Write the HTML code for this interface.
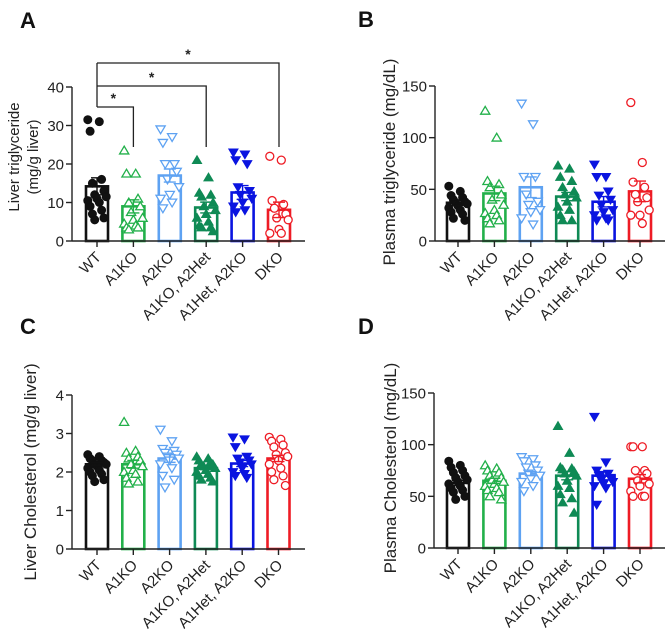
<!DOCTYPE html>
<html><head><meta charset="utf-8">
<style>
html,body{margin:0;padding:0;background:#fff;}
svg{display:block;font-family:"Liberation Sans",Arial,sans-serif;}
</style></head>
<body>
<svg id="fig" width="669" height="635" viewBox="0 0 669 635" xmlns="http://www.w3.org/2000/svg"></svg>
<script>
const categories = ["WT","A1KO","A2KO","A1KO, A2Het","A1Het, A2KO","DKO"];
const colors = ["#111111","#22b04a","#5ea2f2","#0f8a55","#0a14e0","#ee1c25"];
const markers = ["fcircle","otri","odtri","ftri","fdtri","ocircle"];

const liverTgMeans = [14.2, 9.0, 17.0, 8.7, 12.6, 8.1];
const liverTgSems = [2.2, 1.7, 1.7, 1.4, 1.8, 2.0];
const liverTgPoints = [
  [31.5,31,28.5,16,15,13,12,11.5,11,10.5,10,9,8,7,6,5.5],
  [23.5,17.5,17.5,11,10,9,7.5,6,5.5,4.5,4,3.5,3.5,3],
  [29,27,25.5,20,20,18,16,14,12,11,10,8.5],
  [21,16.5,12.5,12,11.5,10,9,8,7,6,5,4,3.5,3.5,2.5],
  [23,22.5,21,20,14,13,12,11,10,9,8,7.5],
  [22,21,10.5,9.5,8.5,7,6,5.5,3,2,2]
];
const plasmaTgMeans = [37, 46, 52, 43, 38, 48];
const plasmaTgSems = [2.5, 7, 10, 4, 5, 10];
const plasmaTgPoints = [
  [53,48,44,42,40,38,37,36,34,32,30,28,26,22,20],
  [126,100,58,55,52,45,40,35,30,27,25,22,20,17],
  [133,113,62,62,45,38,35,30,28,22,16],
  [73,70,62,58,52,48,45,42,38,33,30,25,20,20],
  [74,62,62,48,44,40,35,30,28,25,22,20,20],
  [134,76,57,52,45,42,38,30,25,25,17]
];
const liverChMeans = [2.2, 2.2, 2.35, 2.1, 2.22, 2.35];
const liverChSems = [0.05, 0.1, 0.1, 0.04, 0.08, 0.08];
const liverChPoints = [
  [2.45,2.4,2.35,2.3,2.3,2.25,2.2,2.2,2.15,2.1,2.05,2.0,1.95,1.9,1.8,1.75],
  [3.3,2.55,2.5,2.4,2.35,2.3,2.2,2.15,2.05,2.0,1.95,1.85,1.75,1.7],
  [3.1,2.8,2.6,2.55,2.5,2.45,2.4,2.35,2.3,2.2,2.1,1.9,1.8,1.6],
  [2.4,2.35,2.3,2.25,2.2,2.2,2.15,2.1,2.05,2.0,1.95,1.9,1.85,1.8,1.75],
  [2.9,2.85,2.65,2.4,2.35,2.3,2.25,2.2,2.1,2.0,1.95,1.9,1.85],
  [2.9,2.85,2.8,2.7,2.65,2.5,2.45,2.4,2.3,2.2,2.1,2.0,1.9,1.8,1.65]
];
const plasmaChMeans = [63, 65, 72, 70, 70, 67];
const plasmaChSems = [2.5, 2.5, 2, 4, 4, 4];
const plasmaChPoints = [
  [84,80,78,75,73,70,68,66,64,62,60,58,56,54,50,47],
  [80,77,75,73,70,68,66,64,62,60,58,56,54,50,47],
  [88,86,84,80,78,75,72,70,67,64,60,55],
  [118,92,78,77,76,74,72,70,65,60,58,52,48,44,34],
  [127,83,75,72,70,68,66,64,62,60,58,42],
  [98,98,98,75,75,72,65,62,60,55,50,50,50]
];
const tgTicks = [0,10,20,30,40];
const plasmaTicks = [0,50,100,150];
const chTicks = [0,1,2,3,4];
// significance comparisons in panel A: [groupA, groupB, level]
const sigPairs = [[0,1,0],[0,3,1],[0,5,2]];
const sigLabels = ["*","*","*"];

const NS="http://www.w3.org/2000/svg";
const svg=document.getElementById('fig');
function el(tag,attrs,parent,text){const e=document.createElementNS(NS,tag);for(const k in attrs)e.setAttribute(k,attrs[k]);if(text!==undefined)e.textContent=text;(parent||svg).appendChild(e);return e;}

function marker(g,type,x,y,c){
  const r=4;let e;
  const filled=type[0]==='f';
  if(type.endsWith('circle')){
    e=el('circle',{cx:x,cy:y,r:r},g);
  }else if(type.endsWith('dtri')){
    e=el('polygon',{points:`${x-4.6},${y-3.4} ${x+4.6},${y-3.4} ${x},${y+4.4}`},g);
  }else{
    e=el('polygon',{points:`${x-4.6},${y+3.4} ${x+4.6},${y+3.4} ${x},${y-4.4}`},g);
  }
  e.setAttribute('fill',filled?c:'#fff');
  e.setAttribute('stroke',c);
  e.setAttribute('stroke-width',filled?1:1.3);
  
  
}

function panel(cfg){
  const g=el('g',{},svg);
  
  
  const yMax=cfg.ticks[cfg.ticks.length-1];
  const yS=v=>cfg.base-(v/yMax)*(cfg.base-cfg.top);
  const xS=i=>cfg.c0+cfg.step*i;
  const bw=22;
  cfg.means.forEach((m,i)=>{
    const cx=xS(i),c=colors[i];
    const bar=el('rect',{x:cx-bw/2,y:yS(m),width:bw,height:cfg.base-yS(m),fill:'#fff',stroke:c,'stroke-width':2.6},g);
    
    
    cfg.points[i].forEach((v,j)=>{
      const off=(((j*5)%9)-4)*2.3;
      marker(g,markers[i],cx+off,yS(v),c);
    });
    const s=cfg.sems[i];
    const eb=el('path',{d:`M${cx},${yS(m-s)}V${yS(m+s)}M${cx-6},${yS(m+s)}H${cx+6}M${cx-6},${yS(m-s)}H${cx+6}`,stroke:c,'stroke-width':1.4,fill:'none'},g);
    
    
  });
  const ya=el('path',{d:`M${cfg.ax},${cfg.top}V${cfg.base}`,stroke:'#222','stroke-width':1.4,fill:'none'},g);
  
  
  const xa=el('path',{d:`M${cfg.ax},${cfg.base}H${cfg.end}`,stroke:'#222','stroke-width':1.4,fill:'none'},g);
  
  
  cfg.ticks.forEach(t=>{
    el('path',{d:`M${cfg.ax-6},${yS(t)}H${cfg.ax}`,stroke:'#222','stroke-width':1.4},g);
    const tl=el('text',{x:cfg.ax-8,y:yS(t)+5.5,'text-anchor':'end','font-size':15,fill:'#222'},g,String(t));
    
    
  });
  categories.forEach((n,i)=>{
    const cx=xS(i);
    el('path',{d:`M${cx},${cfg.base}V${cfg.base+6}`,stroke:'#222','stroke-width':1.4},g);
    const tl=el('text',{x:cx+5,y:cfg.base+17,'text-anchor':'end','font-size':15,fill:'#222',transform:`rotate(-45 ${cx+5} ${cfg.base+17})`},g,n);
    
    
  });
  cfg.ylab.forEach((line,k)=>{
    const x=cfg.ylx[k];
    const t=el('text',{x:x,y:cfg.yly,'text-anchor':'middle','font-size':cfg.yfs,fill:'#222',transform:`rotate(-90 ${x} ${cfg.yly})`},g,line);
    
    
  });
  const L=el('text',{x:cfg.lx,y:cfg.ly,'font-size':22,'font-weight':'bold',fill:'#111'},g,cfg.letter);
  
  
  return {g,xS,yS};
}

const A=panel({name:'panel-a-liver-triglyceride',means:liverTgMeans,sems:liverTgSems,points:liverTgPoints,ticks:tgTicks,
  ax:72,base:241,top:87,c0:97,step:36.4,end:305,ylab:['Liver triglyceride','(mg/g liver)'],ylx:[19,38],yly:157,yfs:15,letter:'A',lx:20,ly:28});
panel({name:'panel-b-plasma-triglyceride',means:plasmaTgMeans,sems:plasmaTgSems,points:plasmaTgPoints,ticks:plasmaTicks,
  ax:435,base:241,top:86,c0:458,step:36.4,end:665,ylab:['Plasma triglyceride (mg/dL)'],ylx:[395],yly:162,yfs:17,letter:'B',lx:358,ly:27});
panel({name:'panel-c-liver-cholesterol',means:liverChMeans,sems:liverChSems,points:liverChPoints,ticks:chTicks,
  ax:72,base:549,top:395,c0:97,step:36.3,end:305,ylab:['Liver Cholesterol (mg/g liver)'],ylx:[36],yly:472,yfs:17,letter:'C',lx:20,ly:334});
panel({name:'panel-d-plasma-cholesterol',means:plasmaChMeans,sems:plasmaChSems,points:plasmaChPoints,ticks:plasmaTicks,
  ax:434,base:548,top:393,c0:458,step:36.4,end:665,ylab:['Plasma Cholesterol (mg/dL)'],ylx:[396],yly:468,yfs:17,letter:'D',lx:358,ly:334});

const levelY=[107,86,63];
sigPairs.forEach((p,k)=>{
  const x1=A.xS(p[0]),x2=A.xS(p[1]),y=levelY[p[2]];
  const br=el('path',{d:`M${x1},${y}H${x2}V147`,stroke:'#222','stroke-width':1.3,fill:'none'},A.g);
  
  
  const st=el('text',{x:x1+(x2-x1)*(p[2]===0?0.45:0.5),y:y-4,'text-anchor':'middle','font-size':14,'font-weight':'bold',fill:'#222'},A.g,sigLabels[k]);
  
  
});
const vline=el('path',{d:`M97,63V107`,stroke:'#222','stroke-width':1.3,fill:'none'},A.g);


</script>
</body></html>
